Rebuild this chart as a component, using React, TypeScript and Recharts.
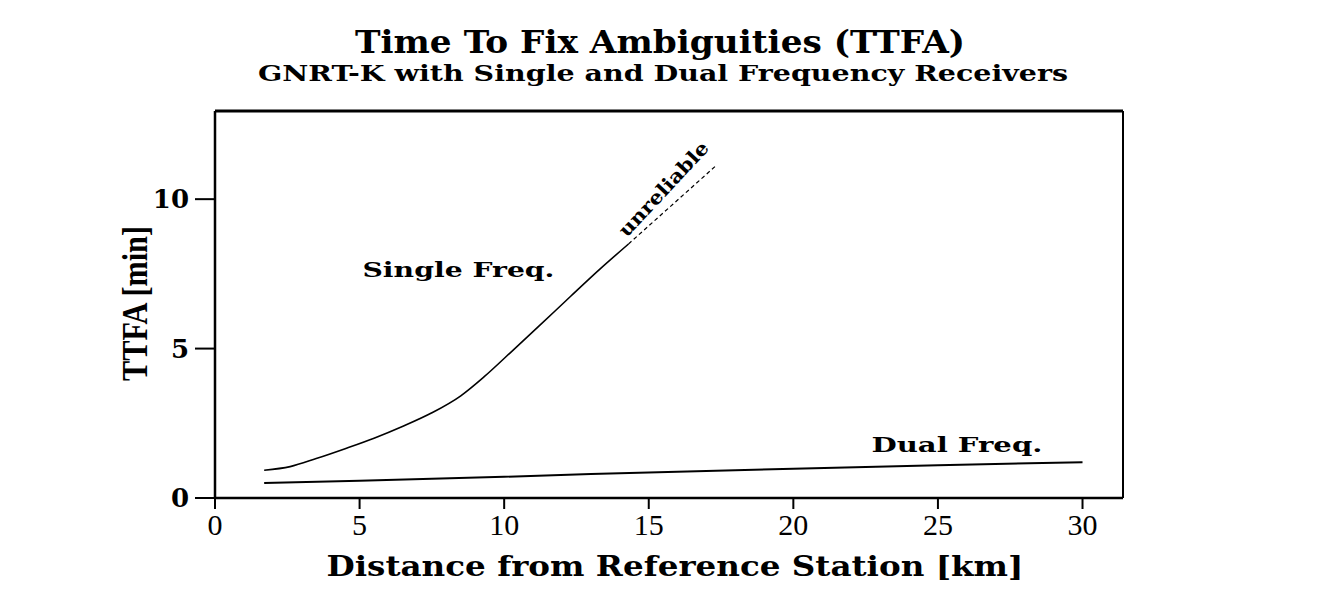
import React from "react";
import {
  LineChart,
  Line,
  XAxis,
  YAxis,
  ReferenceLine,
  ReferenceDot,
  Label,
} from "recharts";

// distances (km) and TTFA values (min)
const singleKm = [1.7, 2.6, 3.5, 4.5, 5.5, 6.5, 7.5, 8.5, 9.3, 10.2, 11.2, 12.3, 13.3, 14.3];
const singleMin = [0.93, 1.05, 1.32, 1.65, 2.0, 2.4, 2.85, 3.42, 4.05, 4.85, 5.75, 6.75, 7.65, 8.5];

const unreliableKm = [14.3, 17.3];
const unreliableMin = [8.5, 11.1];

const dualKm = [1.7, 5, 10, 13, 20, 25, 30];
const dualMin = [0.5, 0.58, 0.71, 0.8, 0.98, 1.1, 1.2];

const xTicks = [0, 5, 10, 15, 20, 25, 30];
const yTicks = [0, 5, 10];

const xMax = 31.4;
const yMax = 12.95;

const toRows = (km: number[], min: number[]) =>
  km.map((d, i) => ({ km: d, ttfa: min[i] }));

const singleData = toRows(singleKm, singleMin);
const unreliableData = toRows(unreliableKm, unreliableMin);
const dualData = toRows(dualKm, dualMin);

const SERIF_BOLD = "'DejaVu Serif', serif";
const SERIF = "'Liberation Serif', serif";

const W = 1332;
const H = 595;

// text annotation anchored at a data point
const note =
  (text: string, size: number, len: number, anchor: "start" | "middle", angle = 0) =>
  (props: any) => {
    const { x, y } = props.viewBox;
    return (
      <text
        x={x}
        y={y}
        fontFamily={SERIF_BOLD}
        fontWeight="bold"
        fontSize={size}
        fill="#000"
        textAnchor={anchor}
        dominantBaseline={angle ? "central" : "auto"}
        textLength={len}
        lengthAdjust="spacingAndGlyphs"
        transform={angle ? `rotate(${angle} ${x} ${y})` : undefined}
      >
        {text}
      </text>
    );
  };

const XTick = ({ x, y, payload }: any) => (
  <text x={x} y={y} dy={24} textAnchor="middle" fontFamily={SERIF} fontSize={30} fill="#000">
    {payload.value}
  </text>
);

const YTick = ({ x, y, payload }: any) => (
  <text
    x={x}
    y={y}
    dy={9}
    textAnchor="end"
    fontFamily={SERIF_BOLD}
    fontWeight="bold"
    fontSize={26}
    fill="#000"
  >
    {payload.value}
  </text>
);

export default function App() {
  // pull the chart over the body margin so the outer frame fits in the svg
  return (
    <div style={{ position: "relative", width: W, height: H, margin: "-8px 0 0 -8px", background: "#fff" }}>
      <LineChart
        width={W}
        height={H}
        margin={{ top: 111, right: 209, bottom: 17, left: 115 }}
      >
        <text
          x={660}
          y={53}
          textAnchor="middle"
          fontFamily={SERIF_BOLD}
          fontWeight="bold"
          fontSize={31}
          textLength={610}
          lengthAdjust="spacingAndGlyphs"
          fill="#000"
        >
          Time To Fix Ambiguities (TTFA)
        </text>
        <text
          x={663}
          y={81}
          textAnchor="middle"
          fontFamily={SERIF_BOLD}
          fontWeight="bold"
          fontSize={23}
          textLength={810}
          lengthAdjust="spacingAndGlyphs"
          fill="#000"
        >
          GNRT-K with Single and Dual Frequency Receivers
        </text>

        <XAxis
          dataKey="km"
          type="number"
          domain={[0, xMax]}
          allowDataOverflow
          ticks={xTicks}
          height={80}
          tickSize={11}
          tick={<XTick />}
          axisLine={{ stroke: "#000", strokeWidth: 2.5 }}
          tickLine={{ stroke: "#000", strokeWidth: 2 }}
        >
          <Label
            content={(p: any) => (
              <text
                x={p.viewBox.x + p.viewBox.width / 2 + 6}
                y={p.viewBox.y + 78}
                textAnchor="middle"
                fontFamily={SERIF_BOLD}
                fontWeight="bold"
                fontSize={27}
                textLength={697}
                lengthAdjust="spacingAndGlyphs"
                fill="#000"
              >
                Distance from Reference Station [km]
              </text>
            )}
          />
        </XAxis>
        <YAxis
          type="number"
          domain={[0, yMax]}
          allowDataOverflow
          ticks={yTicks}
          width={100}
          tickSize={20}
          tickMargin={6}
          tick={<YTick />}
          axisLine={{ stroke: "#000", strokeWidth: 2.5 }}
          tickLine={{ stroke: "#000", strokeWidth: 2 }}
        >
          <Label
            content={(p: any) => {
              const x = p.viewBox.x + 32;
              const y = p.viewBox.y + p.viewBox.height / 2 - 1;
              return (
                <text
                  x={x}
                  y={y}
                  textAnchor="middle"
                  fontFamily={SERIF}
                  fontWeight="bold"
                  fontSize={36}
                  textLength={155}
                  lengthAdjust="spacingAndGlyphs"
                  transform={`rotate(-90 ${x} ${y})`}
                  fill="#000"
                >
                  TTFA [min]
                </text>
              );
            }}
          />
        </YAxis>

        <ReferenceLine y={yMax} stroke="#000" strokeWidth={3} />
        <ReferenceLine x={xMax} stroke="#000" strokeWidth={2} />

        <Line
          data={singleData}
          dataKey="ttfa"
          type="monotone"
          stroke="#000"
          strokeWidth={1.6}
          dot={false}
          isAnimationActive={false}
        />
        <Line
          data={unreliableData}
          dataKey="ttfa"
          type="linear"
          stroke="#000"
          strokeWidth={1.2}
          strokeDasharray="4 3"
          dot={false}
          isAnimationActive={false}
        />
        <Line
          data={dualData}
          dataKey="ttfa"
          type="linear"
          stroke="#000"
          strokeWidth={2}
          dot={false}
          isAnimationActive={false}
        />

        <ReferenceDot x={5.1} y={7.39} r={0} fill="none" stroke="none" label={note("Single Freq.", 21, 192, "start")} />
        <ReferenceDot x={22.7} y={1.54} r={0} fill="none" stroke="none" label={note("Dual Freq.", 21, 171, "start")} />
        <ReferenceDot x={15.5} y={10.35} r={0} fill="none" stroke="none" label={note("unreliable", 19, 122, "middle", -47)} />
      </LineChart>
      <svg
        width={W}
        height={H}
        style={{ position: "absolute", left: 0, top: 0, zIndex: 10, pointerEvents: "none" }}
      >
        <path d={`M5 ${H} V6 H1326 V${H}`} fill="none" stroke="#000" strokeWidth={2.5} />
      </svg>
    </div>
  );
}
